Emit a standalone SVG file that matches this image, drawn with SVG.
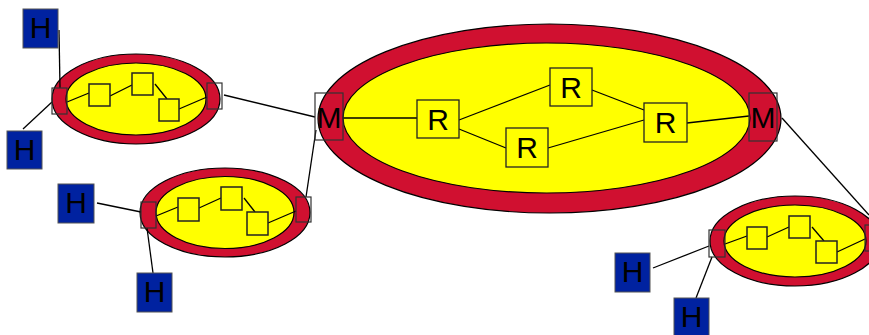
<svg xmlns="http://www.w3.org/2000/svg" width="869" height="335" viewBox="0 0 869 335">
<style>
.outer{fill:#d01030;stroke:#000;stroke-width:1.2}
.inner{fill:#ffff00;stroke:#000;stroke-width:1.2}
.sq{fill:#ffff00;stroke:#222;stroke-width:1.5}
.rbox{fill:#ffff00;stroke:#222;stroke-width:1.3}
.port{fill:none;stroke:#333;stroke-width:1.2}
.host{fill:#0022a0;stroke:#555;stroke-width:1}
.lbl{font-family:"Liberation Sans",Arial,sans-serif;font-size:30px;fill:#000;text-anchor:middle}
.conn line{stroke:#000;stroke-width:1.3}
</style>
<g id="cluster-topleft">
<ellipse class="outer" cx="136" cy="99" rx="84" ry="45"/>
<ellipse class="inner" cx="136" cy="99" rx="70" ry="36"/>
</g>
<g id="cluster-midleft">
<ellipse class="outer" cx="225" cy="212.5" rx="85" ry="44.5"/>
<ellipse class="inner" cx="225" cy="212.5" rx="69" ry="36"/>
</g>
<g id="cluster-core">
<ellipse class="outer" cx="549.5" cy="118.5" rx="231.5" ry="94.5"/>
<ellipse class="inner" cx="546.5" cy="118" rx="203.5" ry="75"/>
</g>
<g id="cluster-bottomright">
<ellipse class="outer" cx="795" cy="241" rx="85" ry="45"/>
<ellipse class="inner" cx="795" cy="241" rx="71" ry="36"/>
</g>
<g id="connectors" class="conn">
<line x1="59" y1="30" x2="60" y2="88"/>
<line x1="23" y1="129" x2="52" y2="102"/>
<line x1="67" y1="102" x2="89" y2="93"/>
<line x1="110" y1="96" x2="132" y2="85"/>
<line x1="155" y1="84" x2="167" y2="99"/>
<line x1="179" y1="109" x2="207" y2="97"/>
<line x1="224" y1="95" x2="315" y2="117"/>
<line x1="97" y1="203" x2="141" y2="212"/>
<line x1="153" y1="273" x2="147" y2="228"/>
<line x1="156" y1="216" x2="178" y2="207"/>
<line x1="199" y1="208" x2="221" y2="198"/>
<line x1="244" y1="198" x2="255" y2="212"/>
<line x1="268" y1="223" x2="296" y2="211"/>
<line x1="306" y1="197" x2="316" y2="130"/>
<line x1="343" y1="118" x2="417" y2="118"/>
<line x1="459" y1="120" x2="550" y2="85"/>
<line x1="459" y1="129" x2="506" y2="148"/>
<line x1="548" y1="148" x2="644" y2="120"/>
<line x1="592" y1="90" x2="644" y2="110"/>
<line x1="687" y1="123" x2="749" y2="116"/>
<line x1="782" y1="118" x2="869" y2="215"/>
<line x1="653" y1="268" x2="709" y2="246"/>
<line x1="696" y1="298" x2="712" y2="257"/>
<line x1="725" y1="244" x2="747" y2="236"/>
<line x1="767" y1="237" x2="789" y2="227"/>
<line x1="812" y1="227" x2="824" y2="241"/>
<line x1="837" y1="252" x2="865" y2="239"/>
</g>
<g id="tl-port-left"><rect class="port" x="52" y="88" width="15" height="26"/></g>
<g id="tl-port-right"><rect class="port" x="207" y="83" width="15" height="26"/></g>
<g id="tl-sw1"><rect class="sq" x="89" y="84" width="21" height="22"/></g>
<g id="tl-sw2"><rect class="sq" x="132" y="73" width="21" height="22"/></g>
<g id="tl-sw3"><rect class="sq" x="159" y="99" width="20" height="22"/></g>
<g id="ml-port-left"><rect class="port" x="141" y="202" width="15" height="26"/></g>
<g id="ml-port-right"><rect class="port" x="296" y="197" width="15" height="25"/></g>
<g id="ml-sw1"><rect class="sq" x="178" y="198" width="21" height="23"/></g>
<g id="ml-sw2"><rect class="sq" x="221" y="187" width="21" height="23"/></g>
<g id="ml-sw3"><rect class="sq" x="247" y="212" width="21" height="23"/></g>
<g id="br-port-left"><rect class="port" x="709" y="230" width="16" height="27"/></g>
<g id="br-port-right"><rect class="port" x="865" y="225" width="15" height="26"/></g>
<g id="br-sw1"><rect class="sq" x="747" y="227" width="20" height="22"/></g>
<g id="br-sw2"><rect class="sq" x="789" y="216" width="21" height="22"/></g>
<g id="br-sw3"><rect class="sq" x="816" y="241" width="21" height="22"/></g>
<g id="m-left"><rect class="port" x="315" y="93" width="28" height="47"/><text class="lbl" x="329" y="128">M</text></g>
<g id="m-right"><rect class="port" x="749" y="93" width="28" height="48"/><text class="lbl" x="763" y="128">M</text></g>
<g id="r1"><rect class="rbox" x="417" y="100" width="42" height="38"/><text class="lbl" x="438" y="130">R</text></g>
<g id="r2"><rect class="rbox" x="550" y="68" width="42" height="38"/><text class="lbl" x="571" y="98">R</text></g>
<g id="r3"><rect class="rbox" x="506" y="128" width="42" height="39"/><text class="lbl" x="527" y="158">R</text></g>
<g id="r4"><rect class="rbox" x="644" y="103" width="43" height="39"/><text class="lbl" x="665.5" y="133">R</text></g>
<g id="h1"><rect class="host" x="23" y="9" width="35" height="39"/><text class="lbl" x="40.5" y="38">H</text></g>
<g id="h2"><rect class="host" x="7" y="131" width="35" height="38"/><text class="lbl" x="24.5" y="160">H</text></g>
<g id="h3"><rect class="host" x="58" y="184" width="36" height="39"/><text class="lbl" x="76" y="213">H</text></g>
<g id="h4"><rect class="host" x="137" y="273" width="35" height="39"/><text class="lbl" x="154.5" y="302">H</text></g>
<g id="h5"><rect class="host" x="615" y="253" width="35" height="39"/><text class="lbl" x="632.5" y="282">H</text></g>
<g id="h6"><rect class="host" x="674" y="298" width="35" height="38"/><text class="lbl" x="691.5" y="327">H</text></g>
</svg>
